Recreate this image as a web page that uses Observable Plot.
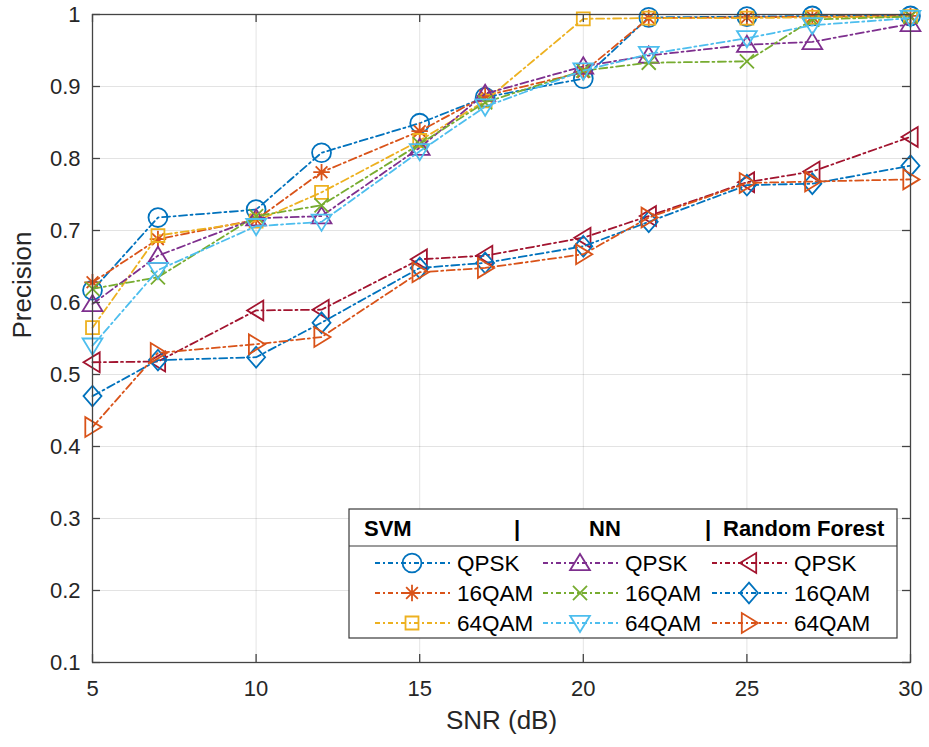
<!DOCTYPE html>
<html><head><meta charset="utf-8">
<script src="https://cdn.jsdelivr.net/npm/d3@7"></script>
<script src="https://cdn.jsdelivr.net/npm/@observablehq/plot@0.6"></script>
<style>
body{margin:0;background:#fff;}
#wrap{position:relative;width:929px;height:747px;font-family:"Liberation Sans",Arial,sans-serif;color:#262626;}
#legend{position:absolute;left:348px;top:508px;}
</style></head><body><div id="wrap"></div>
<script>
// ---- data ----
const snr = [5, 7, 10, 12, 15, 17, 20, 22, 25, 27, 30];
const svmQPSK  = [0.617, 0.718, 0.729, 0.808, 0.849, 0.885, 0.911, 0.996, 0.997, 0.998, 0.998];
const svm16QAM = [0.628, 0.688, 0.715, 0.781, 0.838, 0.887, 0.920, 0.995, 0.996, 0.997, 0.998];
const svm64QAM = [0.565, 0.693, 0.713, 0.753, 0.825, 0.880, 0.994, 0.995, 0.995, 0.996, 0.997];
const nnQPSK   = [0.598, 0.665, 0.717, 0.720, 0.815, 0.890, 0.928, 0.943, 0.958, 0.962, 0.987];
const nn16QAM  = [0.619, 0.635, 0.720, 0.735, 0.820, 0.878, 0.922, 0.933, 0.935, 0.993, 0.997];
const nn64QAM  = [0.540, 0.645, 0.706, 0.712, 0.810, 0.872, 0.922, 0.945, 0.967, 0.985, 0.995];
const rfQPSK   = [0.517, 0.518, 0.589, 0.590, 0.660, 0.665, 0.690, 0.720, 0.767, 0.782, 0.830];
const rf16QAM  = [0.470, 0.520, 0.524, 0.572, 0.648, 0.655, 0.678, 0.712, 0.763, 0.765, 0.790];
const rf64QAM  = [0.427, 0.530, 0.542, 0.552, 0.642, 0.648, 0.667, 0.718, 0.766, 0.768, 0.771];
const xTicks = [5, 10, 15, 20, 25, 30];
const yTicks = [0.1, 0.2, 0.3, 0.4, 0.5, 0.6, 0.7, 0.8, 0.9, 1];
const yTickLabels = ["0.1", "0.2", "0.3", "0.4", "0.5", "0.6", "0.7", "0.8", "0.9", "1"];
const groups = ["SVM", "NN", "Random Forest"];
const modNames = ["QPSK", "16QAM", "64QAM"];

// ---- symbols ----
const R = s => Math.sqrt(s / Math.PI);
const tri = (dir) => ({draw(c, s) {
  const r = R(s), a = 1.1 * r, b = 0.8 * r;
  if (dir === "up")    { c.moveTo(0, -r); c.lineTo(a, b); c.lineTo(-a, b); }
  if (dir === "down")  { c.moveTo(0, r); c.lineTo(a, -b); c.lineTo(-a, -b); }
  if (dir === "left")  { c.moveTo(-r, 0); c.lineTo(b, a); c.lineTo(b, -a); }
  if (dir === "right") { c.moveTo(r, 0); c.lineTo(-b, a); c.lineTo(-b, -a); }
  c.closePath();
}});
const symbols = {
  circle: {draw(c, s) { const r = R(s) * 1.05; c.moveTo(r, 0); c.arc(0, 0, r, 0, 2 * Math.PI); c.closePath(); }},
  asterisk: {draw(c, s) { const r = R(s) * 0.92, d = r * 0.7071;
    c.moveTo(-r, 0); c.lineTo(r, 0); c.moveTo(0, -r); c.lineTo(0, r);
    c.moveTo(-d, -d); c.lineTo(d, d); c.moveTo(-d, d); c.lineTo(d, -d); }},
  square: {draw(c, s) { const r = R(s) * 0.72; c.rect(-r, -r, 2 * r, 2 * r); }},
  times: {draw(c, s) { const r = R(s) * 0.78; c.moveTo(-r, -r); c.lineTo(r, r); c.moveTo(-r, r); c.lineTo(r, -r); }},
  diamond: {draw(c, s) { const r = R(s); c.moveTo(0, -1.15 * r); c.lineTo(r, 0); c.lineTo(0, 1.15 * r); c.lineTo(-r, 0); c.closePath(); }},
  up: tri("up"), down: tri("down"), left: tri("left"), right: tri("right")
};

const seriesList = [
  {group: 0, mod: 0, values: svmQPSK,  color: "#0072BD", sym: "circle"},
  {group: 0, mod: 1, values: svm16QAM, color: "#D95319", sym: "asterisk"},
  {group: 0, mod: 2, values: svm64QAM, color: "#EDB120", sym: "square"},
  {group: 1, mod: 0, values: nnQPSK,   color: "#7E2F8E", sym: "up"},
  {group: 1, mod: 1, values: nn16QAM,  color: "#77AC30", sym: "times"},
  {group: 1, mod: 2, values: nn64QAM,  color: "#4DBEEE", sym: "down"},
  {group: 2, mod: 0, values: rfQPSK,   color: "#A2142F", sym: "left"},
  {group: 2, mod: 1, values: rf16QAM,  color: "#0072BD", sym: "diamond"},
  {group: 2, mod: 2, values: rf64QAM,  color: "#D95319", sym: "right"}
];
const DASH = "8,3.5,2,3.5";
const LW = 1.8;
const MR = 9;

const marks = [
  Plot.gridX(xTicks, {stroke: "#000", strokeOpacity: 0.11, strokeWidth: 1}),
  Plot.gridY(yTicks, {stroke: "#000", strokeOpacity: 0.11, strokeWidth: 1})
];
for (const s of seriesList) {
  const rows = snr.map((x, i) => ({x, y: s.values[i]}));
  marks.push(Plot.line(rows, {x: "x", y: "y", stroke: s.color, strokeWidth: LW, strokeDasharray: DASH}));
  marks.push(Plot.dot(rows, {x: "x", y: "y", r: MR, symbol: symbols[s.sym], stroke: s.color, fill: "none", strokeWidth: LW}));
}
const axisColor = "#444";
marks.push(
  Plot.frame({stroke: axisColor, strokeWidth: 1.3}),
  Plot.tickX(xTicks, {x: d => d, insetTop: 640, stroke: axisColor, strokeWidth: 1.3}),
  Plot.tickX(xTicks, {x: d => d, insetBottom: 640, stroke: axisColor, strokeWidth: 1.3}),
  Plot.tickY(yTicks, {y: d => d, insetRight: 810, stroke: axisColor, strokeWidth: 1.3}),
  Plot.tickY(yTicks, {y: d => d, insetLeft: 810, stroke: axisColor, strokeWidth: 1.3}),
  Plot.axisX(xTicks, {tickSize: 0, tickPadding: 18, fontSize: 22, fill: "#262626", label: null, tickFormat: d => String(d)}),
  Plot.axisY(yTicks, {tickSize: 0, tickPadding: 12, fontSize: 22, fill: "#262626", label: null, tickFormat: (d, i) => yTickLabels[i]}),
  Plot.text(["SNR (dB)"], {frameAnchor: "bottom", dy: 58, fontSize: 26, fill: "#262626", lineAnchor: "middle"}),
  Plot.text(["Precision"], {frameAnchor: "left", dx: -70, rotate: -90, fontSize: 26, fill: "#262626", lineAnchor: "middle"})
);

const chart = Plot.plot({
  width: 929, height: 747,
  marginLeft: 92, marginRight: 19, marginTop: 14, marginBottom: 85,
  style: {fontFamily: "Liberation Sans, Arial, sans-serif", background: "#fff", color: "#262626"},
  x: {domain: [5, 30]},
  y: {domain: [0.1, 1]},
  marks
});
const wrap = document.getElementById("wrap");
wrap.appendChild(chart);

// ---- legend ----
const LWd = 548, LHt = 129;
const leg = d3.create("svg").attr("id", "legend").attr("width", LWd + 2).attr("height", LHt + 2)
  .style("font-family", "Liberation Sans, Arial, sans-serif");
const g = leg.append("g").attr("transform", "translate(1,1)");
g.append("rect").attr("width", LWd).attr("height", LHt).attr("fill", "#fff").attr("stroke", "#3a3a3a").attr("stroke-width", 1.2);
g.append("line").attr("x1", 0).attr("x2", LWd).attr("y1", 37).attr("y2", 37).attr("stroke", "#3a3a3a").attr("stroke-width", 1.2);
const header = [{t: groups[0], x: 15}, {t: "|", x: 165}, {t: groups[1], x: 240}, {t: "|", x: 356}, {t: groups[2], x: 374}];
for (const h of header) {
  g.append("text").attr("x", h.x).attr("y", 27).attr("font-size", 22).attr("font-weight", "bold").attr("fill", "#000").text(h.t);
}
const colX = [26, 194, 363];
const rowY = [54, 84, 114];
for (const s of seriesList) {
  const x0 = colX[s.group], y0 = rowY[s.mod];
  g.append("line").attr("x1", x0).attr("x2", x0 + 75).attr("y1", y0).attr("y2", y0)
    .attr("stroke", s.color).attr("stroke-width", LW).attr("stroke-dasharray", "5,3,2,3");
  g.append("path").attr("transform", `translate(${x0 + 37},${y0})`)
    .attr("d", d3.symbol(symbols[s.sym], Math.PI * MR * MR)())
    .attr("fill", "none").attr("stroke", s.color).attr("stroke-width", LW);
  g.append("text").attr("x", x0 + 82).attr("y", y0).attr("dy", "0.36em").attr("font-size", 22.5).attr("fill", "#000").text(modNames[s.mod]);
}
wrap.appendChild(leg.node());
</script>
</body></html>
